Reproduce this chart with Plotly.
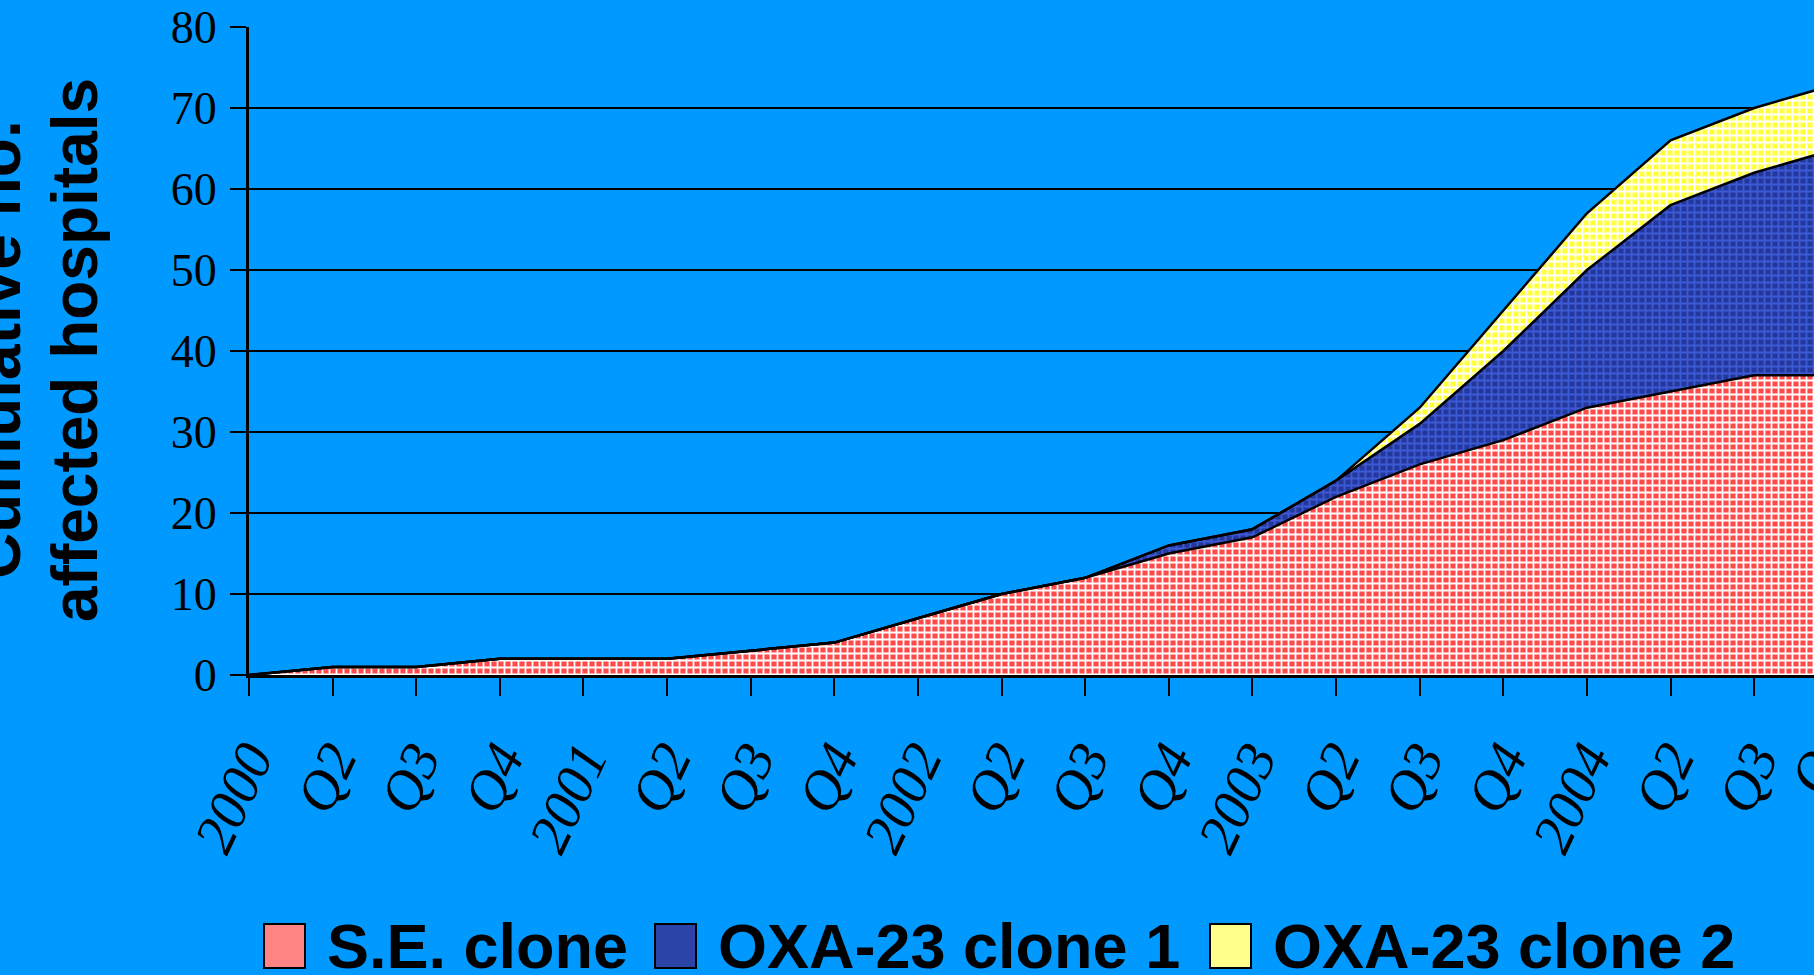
import plotly.graph_objects as go

# ---- data ----
tick_labels = ["2000", "Q2", "Q3", "Q4", "2001", "Q2", "Q3", "Q4",
               "2002", "Q2", "Q3", "Q4", "2003", "Q2", "Q3", "Q4",
               "2004", "Q2", "Q3", "Q4"]
se_clone = [0, 1, 1, 2, 2, 2, 3, 4, 7, 10, 12, 15, 17, 22, 26, 29, 33, 35, 37, 37]
oxa23_clone1 = [0, 0, 0, 0, 0, 0, 0, 0, 0, 0, 0, 1, 1, 2, 5, 11, 17, 23, 25, 28]
oxa23_clone2 = [0, 0, 0, 0, 0, 0, 0, 0, 0, 0, 0, 0, 0, 0, 2, 5, 7, 8, 8, 8]
series_names = ["S.E. clone", "OXA-23 clone 1", "OXA-23 clone 2"]
y_title_lines = ["Cumulative no.", "affected hospitals"]

x_idx = list(range(len(tick_labels)))

# ---- layout geometry (pixels) ----
FW, FH = 1814, 975
ML, MT, MB, MR = 249, 27, 300, 0
PW, PH = FW - ML - MR, FH - MT - MB
TICK_SPACING = 83.62
X_END = PW / TICK_SPACING
TICK_ANGLE = -65

def px_x(x):
    return (x - ML) / PW

def px_y(y):
    return (FH - MB - y) / PH

BG = "#0099ff"
styles = [
    dict(bg="#ff4a4a", fg="#ffffff", swatch="#ff8484"),
    dict(bg="#24379a", fg="#3d5ad6", swatch="#2c43a8"),
    dict(bg="#ffff3a", fg="#ffffff", swatch="#ffff8c"),
]

fig = go.Figure()
for name, vals, st in zip(series_names, [se_clone, oxa23_clone1, oxa23_clone2], styles):
    fig.add_trace(go.Scatter(
        x=x_idx, y=vals, name=name, mode="lines", stackgroup="one",
        line=dict(color="black", width=2.5),
        fillcolor=st["swatch"],
        fillpattern=dict(shape="+", bgcolor=st["bg"], fgcolor=st["fg"],
                         size=7, solidity=0.45, fillmode="replace"),
        showlegend=False, hoverinfo="skip",
    ))

xtick_font = dict(family="Liberation Serif", size=56, color="black", style="italic")

fig.update_layout(
    width=FW, height=FH,
    paper_bgcolor=BG, plot_bgcolor=BG,
    margin=dict(l=ML, r=MR, t=MT, b=MB, pad=0),
    showlegend=False,
    xaxis=dict(
        range=[0, X_END], tickmode="array", tickvals=x_idx, ticktext=tick_labels,
        tickangle=TICK_ANGLE, ticks="outside", ticklen=18, tickwidth=2, tickcolor="black",
        showgrid=False, showline=True, linecolor="black", linewidth=3,
        tickfont=xtick_font, ticklabelstandoff=8,
        zeroline=False, fixedrange=True,
    ),
    yaxis=dict(
        range=[0, 80], dtick=10, ticks="outside", ticklen=16, tickwidth=2,
        tickcolor="black", showgrid=True, gridcolor="black", gridwidth=2,
        showline=True, linecolor="black", linewidth=3, zeroline=False,
        tickfont=dict(family="Liberation Serif", size=46, color="black"),
        ticklabelstandoff=4, fixedrange=True,
    ),
)

# last quarter label, whose tick lies just past the cropped right edge
fig.add_annotation(text=tick_labels[-1], textangle=TICK_ANGLE, xref="paper", yref="paper",
                   x=px_x(ML + (len(tick_labels) - 1) * TICK_SPACING + 27),
                   y=px_y(713), xanchor="right", yanchor="top",
                   showarrow=False, font=xtick_font)

# axis title (two separate lines to match spacing)
title_font = dict(family="Liberation Sans", size=64, color="black", weight="bold")
for line, cx in zip(y_title_lines, [-2, 75]):
    fig.add_annotation(text=line, textangle=-90, xref="paper", yref="paper",
                       x=px_x(cx), y=px_y(350), xanchor="center", yanchor="middle",
                       showarrow=False, font=title_font)

# legend drawn manually
leg_font = dict(family="Liberation Sans", size=63, color="black", weight="bold")
sw_x = [(264, 305), (655, 696), (1210, 1251)]
txt_x = [325, 716, 1271]
for name, st, (x0, x1), tx in zip(series_names, styles, sw_x, txt_x):
    fig.add_shape(type="rect", xref="paper", yref="paper",
                  x0=px_x(x0), x1=px_x(x1), y0=px_y(968), y1=px_y(924),
                  fillcolor=st["swatch"], line=dict(color="black", width=2))
    fig.add_annotation(text=name, xref="paper", yref="paper",
                       x=px_x(tx), y=px_y(946), xanchor="left", yanchor="middle",
                       showarrow=False, font=leg_font)

fig.write_html("out.html", config={"displayModeBar": False},
               post_script="document.body.style.margin='0';document.body.style.overflow='hidden';")
